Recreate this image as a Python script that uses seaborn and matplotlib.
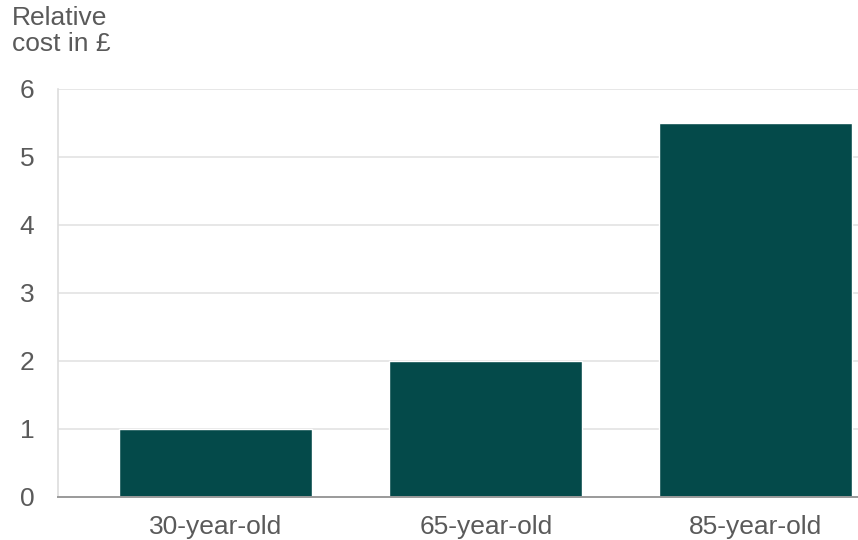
import matplotlib
matplotlib.use("Agg")
import matplotlib.pyplot as plt
import seaborn as sns
import pandas as pd

categories = ["30-year-old", "65-year-old", "85-year-old"]
values = [1.0, 2.0, 5.5]
yticks = [0, 1, 2, 3, 4, 5, 6]

sns.set_style("white")
plt.rcParams['font.family'] = ['Liberation Sans', 'DejaVu Sans']

df = pd.DataFrame({"age": categories, "cost": values})

fig = plt.figure(figsize=(8.58, 5.4), dpi=100)
ax = fig.add_axes([58/858, 1-497/540, 1-58/858, (497-89)/540])

sns.barplot(data=df, x="age", y="cost", color="#044a4a", saturation=1,
            width=0.715, ax=ax, zorder=3)

ax.set_ylim(0, 6)
ax.set_xlim(-0.585, 2.378)
ax.set_yticks(yticks)
ax.set_yticklabels([str(t) for t in yticks])
ax.set_xlabel("")
ax.set_ylabel("")

ax.yaxis.grid(True, color="#e3e3e3", linewidth=1.2, zorder=0)
ax.set_axisbelow(True)
for s in ["top", "right"]:
    ax.spines[s].set_visible(False)
ax.spines["left"].set_color("#dddddd")
ax.spines["left"].set_linewidth(1.2)
ax.spines["bottom"].set_color("#9a9a9a")
ax.spines["bottom"].set_linewidth(1.4)
ax.spines["bottom"].set_zorder(4)

ax.tick_params(axis="y", length=16, color="#e3e3e3", width=1.2, pad=1,
               labelsize=19, labelcolor="#5a5a5a")
ax.tick_params(axis="x", length=0, pad=13, labelsize=19, labelcolor="#5a5a5a")

fig.text(12/858, 1-6/540, "Relative\ncost in £", ha="left", va="top",
         fontsize=19, color="#5a5a5a", linespacing=1.1)

fig.savefig("out.png", dpi=100)
